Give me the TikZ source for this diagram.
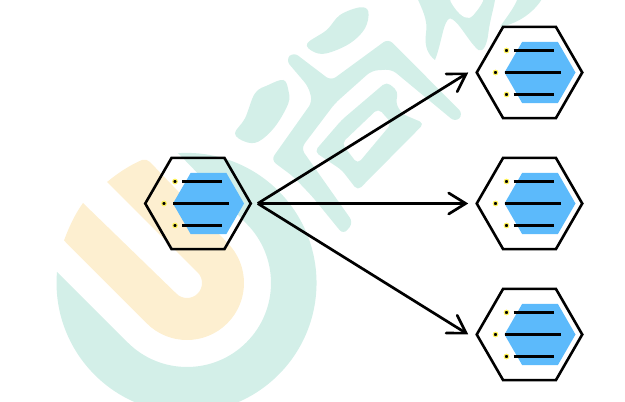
\documentclass[tikz,border=0pt]{standalone}
\usetikzlibrary{arrows.meta,shapes.geometric}
\definecolor{wmteal}{HTML}{D3EFE8}
\definecolor{wmorange}{HTML}{FDEFD0}
\definecolor{hexblue}{HTML}{5CBAFB}
\definecolor{dotyellow}{HTML}{FFF45A}
\tikzset{
  hexframe/.style={regular polygon,regular polygon sides=6,minimum size=105.5pt,inner sep=0pt,outer sep=0pt,draw=black,line width=2.6pt},
  hexcore/.style={regular polygon,regular polygon sides=6,minimum size=71pt,inner sep=0pt,outer sep=0pt,fill=hexblue},
  bullet/.style={circle,fill=black,draw=dotyellow,line width=1.1pt,minimum size=4.6pt,inner sep=0pt},
  rowline/.style={line width=2.6pt,black},
  flow/.style={line width=2.7pt,black,-{Straight Barb[length=17pt,width=21pt,line cap=round]}},
  wm/.style={fill=wmteal,draw=none},
  blob/.style={smooth cycle,tension=0.6}
}
% #1 name, #2 x, #3 y of the hexagon's centre
\newcommand{\hexunit}[3]{%
  \node[hexcore] (#1core) at (#2+10.5,#3) {};
  \coordinate (#1a) at (#2-16,#3+22);
  \coordinate (#1b) at (#2+24,#3+22);
  \coordinate (#1c) at (#2-25,#3);
  \coordinate (#1d) at (#2+31,#3);
  \coordinate (#1e) at (#2-16,#3-22);
  \coordinate (#1f) at (#2+24,#3-22);
  \draw[rowline] (#1a) -- (#1b);
  \draw[rowline] (#1c) -- (#1d);
  \draw[rowline] (#1e) -- (#1f);
  \node[bullet] (#1p) at (#2-23,#3+22) {};
  \node[bullet] (#1q) at (#2-34,#3) {};
  \node[bullet] (#1r) at (#2-23,#3-22) {};
  \node[hexframe] (#1) at (#2,#3) {};
}
\begin{document}
\begin{tikzpicture}[x=1pt,y=1pt]
\useasboundingbox (0,0) rectangle (625,402);
\clip (0,0) rectangle (625,402);
% watermark: U
\fill[wmteal] (178,249) -- (246.4,178.4) arc[start angle=45,end angle=-135,radius=84]
  -- (57,130) arc[start angle=175.2,end angle=454,radius=130] -- cycle;
\fill[wmorange] (64,161.5) .. controls (69,175) and (75,188) .. (83,199)
  -- (176.4,108.4) arc[start angle=225,end angle=405,radius=15]
  -- (107,220) .. controls (118,229) and (130,237) .. (142,242)
  .. controls (145,243) and (148,242) .. (150,240)
  -- (227.3,159.3) arc[start angle=45,end angle=-135,radius=57] -- cycle;
% watermark: characters
\begin{scope}[shift={(225,372)},x=0.33333pt,y=-0.33333pt]
\fill[wm] plot[blob] coordinates {(30,310) (60,265) (90,190) (130,165) (175,150) (190,180) (190,220) (150,290) (100,335) (60,335)};
\fill[wm,rounded corners=6pt] (182,90) -- (205,66) -- (318,152) -- (490,26) -- (715,252) -- (692,277) -- (500,118) -- (440,122) -- (330,220) -- (228,355) -- (385,578) -- (355,614) -- (262,500) -- (205,440) -- (138,390) -- (262,215) -- (250,170) -- cycle;
\fill[wm,even odd rule,rounded corners=5pt] (268,365) -- (350,270) -- (485,155) -- (520,185) -- (512,220) -- (532,252) -- (598,280) -- (398,482) -- (350,420) -- cycle
  (350,340) -- (460,235) -- (500,280) -- (398,402) -- cycle;
\end{scope}
\begin{scope}[shift={(230,402)},x=0.33333pt,y=-0.33333pt]
\fill[wm] plot[blob] coordinates {(232,130) (290,90) (330,45) (390,22) (415,35) (405,85) (360,130) (290,160) (250,155)};
\end{scope}
\begin{scope}[shift={(400,402)},x=0.33333pt,y=-0.33333pt]
\fill[wm] (50,-10) -- (285,-10) -- (285,0) .. controls (280,30) and (270,60) .. (265,100)
  .. controls (262,130) and (250,160) .. (235,150)
  .. controls (205,125) and (175,60) .. (150,55)
  .. controls (130,60) and (125,130) .. (105,180)
  .. controls (85,165) and (72,140) .. (78,100)
  .. controls (85,60) and (65,25) .. (50,-10) -- cycle;
\fill[white] plot[blob] coordinates {(155,-10) (165,25) (195,52) (220,45) (248,-10)};
\fill[wm] (355,-10) .. controls (345,20) and (325,45) .. (300,80)
  .. controls (340,75) and (400,45) .. (430,-10) -- cycle;
\end{scope}
% units
\hexunit{src}{198}{198.5}
\hexunit{top}{529.5}{329.5}
\hexunit{mid}{529.5}{198.5}
\hexunit{low}{529.5}{67.5}
% connectors
\coordinate (fan) at ([xshift=7pt]src.east);
\coordinate (topin) at ([xshift=-8.5pt]top.west);
\coordinate (midin) at ([xshift=-8.5pt]mid.west);
\coordinate (lowin) at ([xshift=-8.5pt]low.west);
\draw[flow] (fan) -- (topin);
\draw[flow] (fan) -- (midin);
\draw[flow] (fan) -- (lowin);
\end{tikzpicture}
\end{document}
